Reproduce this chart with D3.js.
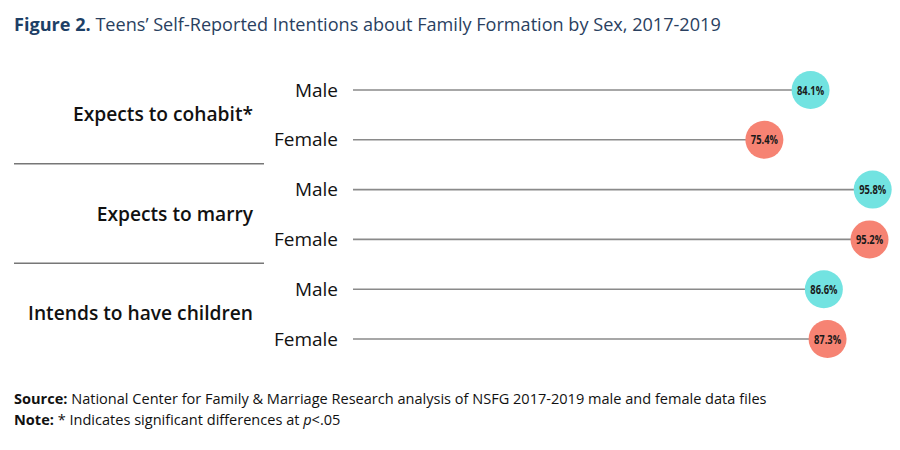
<!DOCTYPE html>
<html>
<head>
<meta charset="utf-8">
<script src="https://cdn.jsdelivr.net/npm/d3@7"></script>
<style>
  body { margin: 0; background: #fff; }
  text { font-family: "Open Sans", sans-serif; }
</style>
</head>
<body>
<div id="chart"></div>
<script>
// data
const groups = ["Expects to cohabit*", "Expects to marry", "Intends to have children"];
const sexes = ["Male", "Female"];
const maleValues = [84.1, 95.8, 86.6];
const femaleValues = [75.4, 95.2, 87.3];

const width = 900, height = 450;
const colors = {Male: "#72e3e1", Female: "#f68373"};

const svg = d3.select("#chart").append("svg")
    .attr("width", width)
    .attr("height", height);

// title
let title = svg.append("text")
    .attr("x", 14)
    .attr("y", 31)
    .style("font-size", "18.1px")
    .style("fill", "#1d3f66");
title.append("tspan").style("font-weight", "bold").text("Figure 2.");
title.append("tspan").style("fill", "#2a3f5f").text(" Teens\u2019 Self-Reported Intentions about Family Formation by Sex, 2017-2019");

// rows: one per group x sex
let rows = [];
groups.forEach((g, i) => {
  rows.push({group: g, sex: "Male", value: maleValues[i]});
  rows.push({group: g, sex: "Female", value: femaleValues[i]});
});

let y = d3.scalePoint()
    .domain(rows.map((d, i) => i))
    .range([90, 339]);

let yGroup = d3.scaleBand()
    .domain(groups)
    .range([65, 364]);

let x = d3.scaleLinear()
    .domain([0, 100])
    .range([364, 895]);

const lineStart = 353;

// group labels
svg.append("g").selectAll("text")
    .data(groups)
    .enter().append("text")
    .attr("x", 253)
    .attr("y", d => yGroup(d) + yGroup.bandwidth() / 2 + 6)
    .attr("text-anchor", "end")
    .style("font-size", "19.2px")
    .style("font-weight", "600")
    .style("fill", "#111")
    .text(d => d);

// separators between groups
svg.append("g").selectAll("line")
    .data(groups.slice(1))
    .enter().append("line")
    .attr("x1", 14)
    .attr("x2", 264)
    .attr("y1", d => yGroup(d) - 1)
    .attr("y2", d => yGroup(d) - 1)
    .style("stroke", "#777")
    .style("stroke-width", 1.5);

const rowG = svg.append("g").selectAll("g")
    .data(rows)
    .enter().append("g")
    .attr("transform", (d, i) => `translate(0, ${y(i)})`);

rowG.append("text")
    .attr("x", 338)
    .attr("y", 6.5)
    .attr("text-anchor", "end")
    .style("font-size", "19px")
    .style("fill", "#111")
    .text(d => d.sex);

rowG.append("line")
    .attr("x1", lineStart)
    .attr("x2", d => x(d.value))
    .attr("y1", 0)
    .attr("y2", 0)
    .style("stroke", "#8a8a8a")
    .style("stroke-width", 1.6);

rowG.append("circle")
    .attr("cx", d => x(d.value))
    .attr("cy", 0)
    .attr("r", 19)
    .style("fill", d => colors[d.sex]);

// condensed value labels
rowG.append("text")
    .attr("transform", d => `translate(${x(d.value)}, 4.5) scale(0.72, 1)`)
    .attr("text-anchor", "middle")
    .style("font-size", "13px")
    .style("font-weight", "bold")
    .style("fill", "#1a1a1a")
    .text(d => d.value.toFixed(1) + "%");

// footnotes
let src = svg.append("text")
    .attr("x", 14)
    .attr("y", 404)
    .style("font-size", "14.55px")
    .style("fill", "#111");
src.append("tspan").style("font-weight", "bold").text("Source:");
src.append("tspan").text(" National Center for Family & Marriage Research analysis of NSFG 2017-2019 male and female data files");

let note = svg.append("text")
    .attr("x", 14)
    .attr("y", 425)
    .style("font-size", "14.55px")
    .style("fill", "#111");
note.append("tspan").style("font-weight", "bold").text("Note:");
note.append("tspan").text(" * Indicates significant differences at ");
note.append("tspan").style("font-style", "italic").text("p");
note.append("tspan").text("<.05");
</script>
</body>
</html>
